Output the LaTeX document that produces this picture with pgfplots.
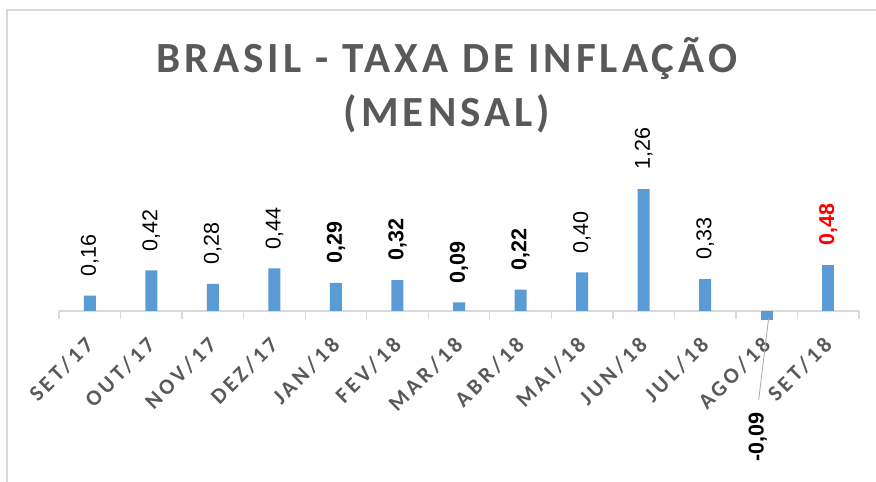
\documentclass[border=0pt]{standalone}
\usepackage{pgfplots}
\pgfplotsset{compat=1.18}
\usepackage{fontspec}
\newfontfamily\calibtitle[LetterSpace=9.5]{Carlito}
\newfontfamily\calibtick[LetterSpace=16]{Carlito}
\newfontfamily\arial{Liberation Sans}
\definecolor{barblue}{HTML}{5B9BD5}
\definecolor{txtgray}{HTML}{595959}
\definecolor{linegray}{HTML}{D9D9D9}

\begin{document}
\begin{tikzpicture}
\useasboundingbox (0,0) rectangle (876pt,482pt);
% frame of the chart area
\draw[linegray, line width=2pt] (7pt,0) -- (7pt,472pt) -- (876pt,472pt);
% title
\node[anchor=base, inner sep=0pt, text=txtgray, font=\calibtitle\bfseries\fontsize{43}{50}\selectfont]
  at (447pt,409pt) {BRASIL - TAXA DE INFLAÇÃO};
\node[anchor=base, inner sep=0pt, text=txtgray, font=\calibtitle\bfseries\fontsize{43}{50}\selectfont]
  at (447pt,355pt) {(MENSAL)};
\begin{axis}[
    at={(59pt,151.64pt)}, anchor=south west,
    scale only axis, width=800pt, height=154.88pt,
    xmin=-0.5, xmax=12.5, ymin=-0.2, ymax=1.4,
    axis y line=none, axis x line=middle,
    x axis line style={-, linegray, line width=1.5pt},
    xtick={0,...,12},
    xticklabels={SET/17,OUT/17,NOV/17,DEZ/17,JAN/18,FEV/18,MAR/18,ABR/18,MAI/18,JUN/18,JUL/18,AGO/18,SET/18},
    major tick length=0pt,
    minor xtick={-0.5,0.5,...,12.5},
    minor tick length=8pt,
    xtick align=outside,
    minor tick style={linegray, line width=1.3pt},
    xticklabel style={rotate=45, anchor=east, inner sep=0pt, text=txtgray,
                      font=\calibtick\bfseries\fontsize{22}{26}\selectfont},
    xticklabel shift=30pt,
    ybar, bar width=12pt, bar shift=0pt,
    clip=false,
    nodes near coords={\pgfmathprintnumber[fixed,fixed zerofill,precision=2,use comma,assume math mode=true]{\pgfplotspointmeta}},
]
% regular labels
\addplot[fill=barblue, draw=none,
    every node near coord/.append style={yshift=19pt, rotate=90, anchor=west, inner sep=0pt,
        text=black, font=\arial\fontsize{21.5}{26}\selectfont}]
  coordinates {(0,0.16) (1,0.42) (2,0.28) (3,0.44) (8,0.40) (9,1.26) (10,0.33)};
% bold labels
\addplot[fill=barblue, draw=none,
    every node near coord/.append style={yshift=19pt, rotate=90, anchor=west, inner sep=0pt,
        text=black, font=\arial\bfseries\fontsize{21.5}{26}\selectfont}]
  coordinates {(4,0.29) (5,0.32) (6,0.09) (7,0.22)};
% latest month in red
\addplot[fill=barblue, draw=none,
    every node near coord/.append style={yshift=19pt, rotate=90, anchor=west, inner sep=0pt,
        text=red, font=\arial\bfseries\fontsize{21.5}{26}\selectfont}]
  coordinates {(12,0.48)};
% negative month, label pulled down below the tick labels
\addplot[fill=barblue, draw=none,
    every node near coord/.append style={xshift=-9pt, yshift=-142pt, rotate=90, anchor=west, inner sep=0pt,
        text=black, font=\arial\bfseries\fontsize{21.5}{26}\selectfont}]
  coordinates {(11,-0.09)};
\draw[gray!70, line width=0.8pt] (axis cs:11,-0.09) ++(2pt,2pt) -- ++(-10pt,-82pt);
\end{axis}
\end{tikzpicture}
\end{document}
